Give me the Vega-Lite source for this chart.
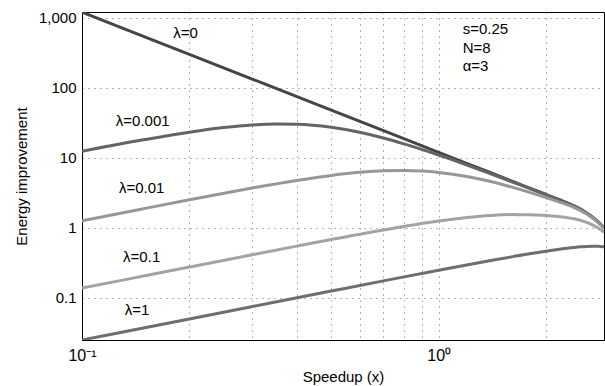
{
  "$schema": "https://vega.github.io/schema/vega-lite/v6.json",
  "width": 522,
  "height": 328,
  "autosize": "none",
  "padding": {"left": 82, "top": 12, "right": 1, "bottom": 46},
  "background": "white",
  "config": {
    "font": "Liberation Sans",
    "view": {"stroke": "black", "strokeWidth": 1}
  },
  "datasets": {
    "curves": [
      {"lam": "0", "x": 0.1, "y": 1194.2}, {"lam": "0", "x": 0.2, "y": 298.5}, {"lam": "0", "x": 0.5, "y": 47.77}, {"lam": "0", "x": 1.0, "y": 11.94}, {"lam": "0", "x": 1.4, "y": 6.093}, {"lam": "0", "x": 1.8, "y": 3.686}, {"lam": "0", "x": 2.0, "y": 2.985}, {"lam": "0", "x": 2.2857, "y": 2.2857}, {"lam": "0", "x": 2.4, "y": 2.052}, {"lam": "0", "x": 2.5, "y": 1.842}, {"lam": "0", "x": 2.6, "y": 1.629}, {"lam": "0", "x": 2.7, "y": 1.4185}, {"lam": "0", "x": 2.8, "y": 1.2133}, {"lam": "0", "x": 2.85, "y": 1.1139}, {"lam": "0", "x": 2.909, "y": 1.0},
      {"lam": "0.001", "x": 0.1, "y": 12.383}, {"lam": "0.001", "x": 0.15, "y": 18.128}, {"lam": "0.001", "x": 0.2, "y": 23.09}, {"lam": "0.001", "x": 0.25, "y": 26.88}, {"lam": "0.001", "x": 0.3, "y": 29.27}, {"lam": "0.001", "x": 0.35, "y": 30.23}, {"lam": "0.001", "x": 0.4, "y": 29.97}, {"lam": "0.001", "x": 0.5, "y": 27.1}, {"lam": "0.001", "x": 0.6, "y": 23.02}, {"lam": "0.001", "x": 0.7, "y": 19.08}, {"lam": "0.001", "x": 0.8, "y": 15.74}, {"lam": "0.001", "x": 1.0, "y": 10.911}, {"lam": "0.001", "x": 1.4, "y": 5.894}, {"lam": "0.001", "x": 1.8, "y": 3.63}, {"lam": "0.001", "x": 2.0, "y": 2.953}, {"lam": "0.001", "x": 2.2857, "y": 2.2698}, {"lam": "0.001", "x": 2.4, "y": 2.0402}, {"lam": "0.001", "x": 2.5, "y": 1.8328}, {"lam": "0.001", "x": 2.6, "y": 1.6228}, {"lam": "0.001", "x": 2.7, "y": 1.414}, {"lam": "0.001", "x": 2.8, "y": 1.2103}, {"lam": "0.001", "x": 2.85, "y": 1.1115}, {"lam": "0.001", "x": 2.909, "y": 0.998},
      {"lam": "0.01", "x": 0.1, "y": 1.2612}, {"lam": "0.01", "x": 0.15, "y": 1.8871}, {"lam": "0.01", "x": 0.2, "y": 2.5041}, {"lam": "0.01", "x": 0.3, "y": 3.6834}, {"lam": "0.01", "x": 0.4, "y": 4.7329}, {"lam": "0.01", "x": 0.5, "y": 5.5821}, {"lam": "0.01", "x": 0.6, "y": 6.178}, {"lam": "0.01", "x": 0.7, "y": 6.5027}, {"lam": "0.01", "x": 0.8, "y": 6.5758}, {"lam": "0.01", "x": 0.9, "y": 6.4447}, {"lam": "0.01", "x": 1.0, "y": 6.1683}, {"lam": "0.01", "x": 1.2, "y": 5.3938}, {"lam": "0.01", "x": 1.4, "y": 4.5645}, {"lam": "0.01", "x": 1.8, "y": 3.1986}, {"lam": "0.01", "x": 2.0, "y": 2.6936}, {"lam": "0.01", "x": 2.2857, "y": 2.1376}, {"lam": "0.01", "x": 2.4, "y": 1.94}, {"lam": "0.01", "x": 2.5, "y": 1.7566}, {"lam": "0.01", "x": 2.6, "y": 1.567}, {"lam": "0.01", "x": 2.7, "y": 1.3749}, {"lam": "0.01", "x": 2.8, "y": 1.1844}, {"lam": "0.01", "x": 2.85, "y": 1.0909}, {"lam": "0.01", "x": 2.909, "y": 0.983},
      {"lam": "0.1", "x": 0.1, "y": 0.13749}, {"lam": "0.1", "x": 0.15, "y": 0.20618}, {"lam": "0.1", "x": 0.2, "y": 0.27477}, {"lam": "0.1", "x": 0.3, "y": 0.41134}, {"lam": "0.1", "x": 0.4, "y": 0.54634}, {"lam": "0.1", "x": 0.5, "y": 0.67862}, {"lam": "0.1", "x": 0.7, "y": 0.92914}, {"lam": "0.1", "x": 1.0, "y": 1.24471}, {"lam": "0.1", "x": 1.2, "y": 1.39727}, {"lam": "0.1", "x": 1.4, "y": 1.49546}, {"lam": "0.1", "x": 1.6, "y": 1.53981}, {"lam": "0.1", "x": 1.8, "y": 1.53683}, {"lam": "0.1", "x": 2.0, "y": 1.49668}, {"lam": "0.1", "x": 2.2857, "y": 1.39683}, {"lam": "0.1", "x": 2.4, "y": 1.34043}, {"lam": "0.1", "x": 2.5, "y": 1.27467}, {"lam": "0.1", "x": 2.6, "y": 1.19377}, {"lam": "0.1", "x": 2.7, "y": 1.09862}, {"lam": "0.1", "x": 2.8, "y": 0.99105}, {"lam": "0.1", "x": 2.85, "y": 0.93342}, {"lam": "0.1", "x": 2.909, "y": 0.86275},
      {"lam": "1", "x": 0.1, "y": 0.025}, {"lam": "1", "x": 0.2, "y": 0.05}, {"lam": "1", "x": 0.3, "y": 0.07498}, {"lam": "1", "x": 0.5, "y": 0.12484}, {"lam": "1", "x": 0.7, "y": 0.17437}, {"lam": "1", "x": 1.0, "y": 0.24741}, {"lam": "1", "x": 1.4, "y": 0.34023}, {"lam": "1", "x": 1.8, "y": 0.42411}, {"lam": "1", "x": 2.0, "y": 0.46137}, {"lam": "1", "x": 2.2857, "y": 0.50794}, {"lam": "1", "x": 2.4, "y": 0.52347}, {"lam": "1", "x": 2.5, "y": 0.53434}, {"lam": "1", "x": 2.6, "y": 0.54191}, {"lam": "1", "x": 2.7, "y": 0.54526}, {"lam": "1", "x": 2.8, "y": 0.54328}, {"lam": "1", "x": 2.85, "y": 0.53984}, {"lam": "1", "x": 2.909, "y": 0.53333}
    ],
    "labels": [
      {"x": 0.195, "y": 611, "text": "λ=0"},
      {"x": 0.148, "y": 33.8, "text": "λ=0.001"},
      {"x": 0.147, "y": 3.73, "text": "λ=0.01"},
      {"x": 0.147, "y": 0.385, "text": "λ=0.1"},
      {"x": 0.1426, "y": 0.0674, "text": "λ=1"}
    ],
    "notes": [
      {"x": 1.168, "y": 696, "text": "s=0.25"},
      {"x": 1.168, "y": 373, "text": "N=8"},
      {"x": 1.168, "y": 206, "text": "α=3"}
    ]
  },
  "layer": [
    {
      "data": {"name": "curves"},
      "mark": {"type": "line", "strokeWidth": 3, "interpolate": "monotone", "clip": true},
      "encoding": {
        "x": {
          "field": "x", "type": "quantitative",
          "scale": {"type": "log", "domain": [0.1, 2.909], "nice": false},
          "axis": {
            "title": "Speedup (x)",
            "titleFontSize": 15, "titleFontWeight": "normal", "titleColor": "black", "titlePadding": 6,
            "values": [0.1, 0.2, 0.3, 0.4, 0.5, 0.6, 0.7, 0.8, 0.9, 1, 2],
            "labelExpr": "datum.value == 0.1 ? '10⁻¹' : (datum.value == 1 ? '10⁰' : '')",
            "labelFontSize": 16, "labelColor": "black", "labelPadding": 7, "labelFlush": false,
            "ticks": false, "domainColor": "black",
            "grid": true, "gridColor": "#666", "gridDash": [1, 5], "gridOpacity": 1
          }
        },
        "y": {
          "field": "y", "type": "quantitative",
          "scale": {"type": "log", "domain": [0.025, 1200], "nice": false},
          "axis": {
            "title": "Energy improvement",
            "titleFontSize": 15, "titleFontWeight": "normal", "titleColor": "black", "titlePadding": 9,
            "values": [0.1, 1, 10, 100, 1000],
            "labelExpr": "format(datum.value, ',')",
            "labelFontSize": 15, "labelColor": "black", "labelPadding": 6,
            "ticks": false, "domainColor": "black",
            "grid": true, "gridColor": "#666", "gridDash": [1, 5], "gridOpacity": 1
          }
        },
        "color": {
          "field": "lam", "type": "nominal",
          "scale": {"domain": ["1", "0.1", "0.01", "0.001", "0"], "range": ["#6e6e6e", "#a3a3a3", "#979797", "#646464", "#454545"]},
          "legend": null
        }
      }
    },
    {
      "data": {"name": "labels"},
      "mark": {"type": "text", "fontSize": 15, "align": "center", "baseline": "middle", "color": "black"},
      "encoding": {
        "x": {"field": "x", "type": "quantitative"},
        "y": {"field": "y", "type": "quantitative"},
        "text": {"field": "text"}
      }
    },
    {
      "data": {"name": "notes"},
      "mark": {"type": "text", "fontSize": 15, "align": "left", "baseline": "middle", "color": "black"},
      "encoding": {
        "x": {"field": "x", "type": "quantitative"},
        "y": {"field": "y", "type": "quantitative"},
        "text": {"field": "text"}
      }
    }
  ]
}
